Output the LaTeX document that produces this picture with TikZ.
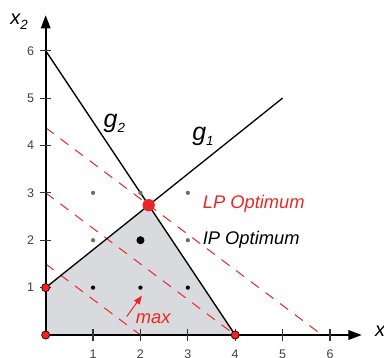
\documentclass[tikz,border=0pt]{standalone}
\usepackage{fontspec}
\setmainfont{Liberation Sans}
\usetikzlibrary{arrows.meta}
\definecolor{feasible}{RGB}{217,218,221}
\definecolor{lpred}{RGB}{236,38,38}
\definecolor{gridgray}{RGB}{110,110,110}
\newcommand{\subvar}[3]{{\fontsize{#3}{#3}\selectfont\itshape #1}\raisebox{-0.3em}{\fontsize{8}{8}\selectfont\itshape #2}}

\begin{document}
\begin{tikzpicture}[>={Triangle[length=2.8mm,width=2mm]},
    axis/.style={line width=1.1pt, ->},
    tick/.style={line width=0.7pt, black!80},
    constr/.style={line width=0.8pt},
    objline/.style={lpred, line width=0.6pt, dash pattern=on 6pt off 5pt},
    ticklabel/.style={text=black!75, font=\fontsize{7.5}{8}\selectfont, inner sep=0pt},
    lbl/.style={font=\fontsize{11}{12}\selectfont\itshape, inner sep=0pt}]
    \useasboundingbox (-0.964,-0.485) rectangle (7.14,7.07);

    \coordinate (O) at (0,0);
    \coordinate (A) at (0,1);
    \coordinate (B) at (4,0);
    \coordinate (LP) at (2.174,2.739);
    \coordinate (C) at (0,6);
    \coordinate (D) at (5,5);
    \coordinate (xend) at (6.67,0);
    \coordinate (yend) at (0,6.75);

    \fill[feasible] (O) -- (A) -- (LP) -- (B) -- cycle;

    % objective lines 3x1+4x2 = const
    \coordinate (o1a) at (0,1.5);   \coordinate (o1b) at (2,0);
    \coordinate (o2a) at (0,3);     \coordinate (o2b) at (4,0);
    \coordinate (o3a) at (0,4.375); \coordinate (o3b) at (5.833,0);
    \draw[objline] (o1a) -- (o1b);
    \draw[objline] (o2a) -- (o2b);
    \draw[objline] (o3a) -- (o3b);

    \draw[constr] (C) -- (B);
    \draw[constr] (A) -- (D);

    \draw[axis] (O) -- (xend);
    \draw[axis] (O) -- (yend);
    \foreach \i in {1,...,6} {
        \draw[tick] (\i,-0.12) -- (\i,0.12);
        \draw[tick] (-0.12,\i) -- (0.12,\i);
        \node (xt\i) [ticklabel] at (\i,-0.4) {\i};
        \node (yt\i) [ticklabel] at (-0.32,\i) {\i};
    }

    % integer points
    \foreach \p in {(1,3),(2,3),(3,3),(1,2),(3,2)}
        \fill[gridgray] \p circle (0.045);
    \foreach \p in {(1,1),(2,1),(3,1)}
        \fill[black] \p circle (0.045);
    \fill[black] (2,2) circle (0.085);

    \foreach \v in {O,A,B}
        \filldraw[fill=lpred, draw=black!70!red, line width=0.5pt] (\v) circle (0.085);
    \fill[lpred] (LP) circle (0.13);

    \node (g2) at (1.45,4.47) {\subvar{g}{2}{15}};
    \node (g1) at (3.32,4.2) {\subvar{g}{1}{15}};
    \node (xone) [anchor=west] at (6.83,0.02) {\subvar{x}{1}{12}};
    \node (xtwo) at (-0.56,6.62) {\subvar{x}{2}{12}};

    \node (lplabel) [lbl, anchor=west, text=lpred] at (3.31,2.76) {LP Optimum};
    \node (iplabel) [lbl, anchor=west] at (3.31,2.0) {IP Optimum};
    \node (max) [lbl, text=lpred] at (2.27,0.35) {max};
    \coordinate (maxtail) at (1.71,0.39);
    \coordinate (maxtip) at (2.03,0.83);
    \draw[->, lpred, line width=0.6pt, >={Triangle[length=1.8mm,width=1.4mm]}] (maxtail) -- (maxtip);
\end{tikzpicture}
\end{document}
